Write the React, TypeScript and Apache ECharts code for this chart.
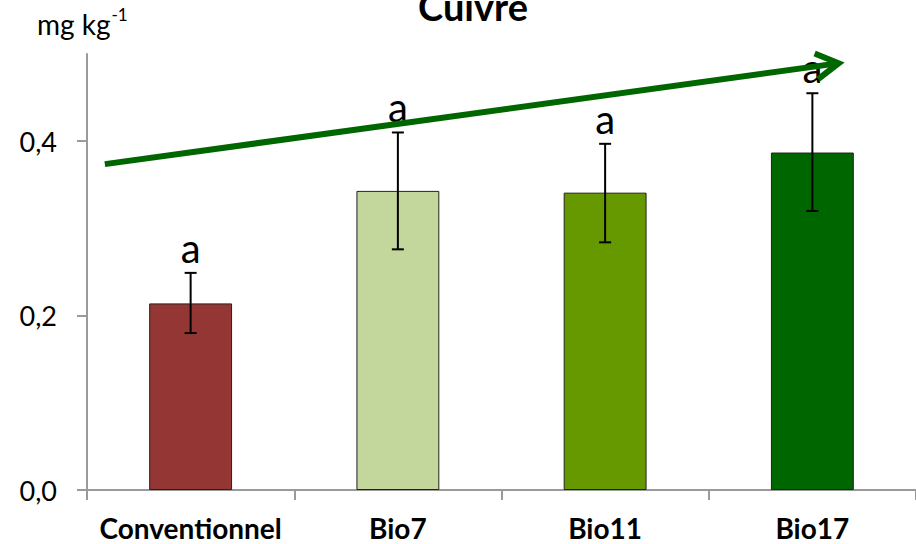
import React, { useEffect, useRef } from "react";
import * as echarts from "echarts";

const categories = ["Conventionnel", "Bio7", "Bio11", "Bio17"];
const values = [0.214, 0.343, 0.341, 0.387];
const errLow = [0.18, 0.276, 0.284, 0.32];
const errHigh = [0.249, 0.41, 0.397, 0.455];
const letters = ["a", "a", "a", "a"];
const barColors = ["#943634", "#C3D69B", "#669900", "#006600"];
const yTicks = [0, 0.2, 0.4];
const yLabels = ["0,0", "0,2", "0,4"];
const arrowStart = [-0.414, 0.3737];
const arrowEnd = [3.127, 0.4894];

const FONT = "Lato, 'Open Sans', sans-serif";

export default function App() {
  const ref = useRef<HTMLDivElement>(null);
  useEffect(() => {
    if (!ref.current) return;
    const chart = echarts.init(ref.current, undefined, { renderer: "svg" });
    const option: any = {
      animation: false,
      textStyle: { fontFamily: FONT },
      graphic: [
        {
          type: "text",
          x: 473,
          y: -13,
          style: { text: "Cuivre", font: `bold 38px ${FONT}`, fill: "#000", align: "center", verticalAlign: "top" },
        },
        {
          type: "text",
          left: 37,
          top: 6,
          style: {
            text: "{a|mg kg}{s|-1}",
            fill: "#000",
            rich: {
              a: { fontFamily: FONT, fontSize: 28, fill: "#000", verticalAlign: "bottom", lineHeight: 32 },
              s: { fontFamily: FONT, fontSize: 17, fill: "#000", verticalAlign: "top", lineHeight: 32, padding: [0, 0, 14, 1] },
            },
          },
        },
      ],
      grid: { left: 87, right: -7, top: 54, bottom: 54, containLabel: false },
      xAxis: [
        {
          type: "category",
          data: categories,
          axisLine: { lineStyle: { color: "#9a9a9a", width: 2 } },
          axisTick: { show: true, length: 10, lineStyle: { color: "#9a9a9a", width: 2 } },
          axisLabel: { interval: 0, fontFamily: FONT, fontWeight: "bold", fontSize: 28, lineHeight: 28, color: "#000", margin: 24 },
        },
        {
          type: "value",
          min: -0.5,
          max: 3.5,
          show: false,
        },
      ],
      yAxis: {
        type: "value",
        min: 0,
        max: 0.5,
        interval: 0.1,
        splitLine: { show: false },
        axisLine: { show: true, onZero: false, lineStyle: { color: "#9a9a9a", width: 2 } },
        axisTick: { show: true, length: 10, customValues: yTicks, lineStyle: { color: "#9a9a9a", width: 2 } },
        axisLabel: {
          customValues: yTicks,
          fontFamily: FONT,
          fontSize: 27,
          color: "#000",
          margin: 30,
          formatter: (v: number) => {
            const i = yTicks.findIndex((t) => Math.abs(t - v) < 1e-9);
            return i >= 0 ? yLabels[i] : "";
          },
        },
      },
      series: [
        {
          type: "bar",
          xAxisIndex: 0,
          barWidth: "40%",
          data: values.map((v, i) => ({
            value: v,
            itemStyle: { color: barColors[i], borderColor: "#222", borderWidth: 1 },
          })),
        },
        {
          type: "custom",
          xAxisIndex: 0,
          z: 5,
          data: categories.map((_, i) => [i, errLow[i], errHigh[i]]),
          renderItem: (params: any, api: any) => {
            const i = api.value(0);
            const lo = api.coord([i, api.value(1)]);
            const hi = api.coord([i, api.value(2)]);
            const hw = 6;
            const st = { stroke: "#000", lineWidth: 2 };
            return {
              type: "group",
              children: [
                { type: "line", shape: { x1: lo[0], y1: lo[1], x2: hi[0], y2: hi[1] }, style: st },
                { type: "line", shape: { x1: lo[0] - hw, y1: lo[1], x2: lo[0] + hw, y2: lo[1] }, style: st },
                { type: "line", shape: { x1: hi[0] - hw, y1: hi[1], x2: hi[0] + hw, y2: hi[1] }, style: st },
                {
                  type: "text",
                  x: hi[0],
                  y: hi[1] - 5,
                  style: {
                    text: letters[i],
                    font: `40px ${FONT}`,
                    fill: "#000",
                    align: "center",
                    verticalAlign: "bottom",
                  },
                },
              ],
            };
          },
        },
        {
          type: "custom",
          xAxisIndex: 1,
          z: 10,
          data: [[arrowStart[0], arrowStart[1], arrowEnd[0], arrowEnd[1]]],
          renderItem: (params: any, api: any) => {
            const p0 = api.coord([api.value(0), api.value(1)]);
            const p1 = api.coord([api.value(2), api.value(3)]);
            const ang = Math.atan2(p1[1] - p0[1], p1[0] - p0[0]);
            const L = 26;
            const a = (30 * Math.PI) / 180;
            const w1 = [p1[0] - L * Math.cos(ang - a), p1[1] - L * Math.sin(ang - a)];
            const w2 = [p1[0] - L * Math.cos(ang + a), p1[1] - L * Math.sin(ang + a)];
            const st = { stroke: "#006600", lineWidth: 6, fill: "none", lineJoin: "miter" };
            return {
              type: "group",
              children: [
                { type: "line", shape: { x1: p0[0], y1: p0[1], x2: p1[0] - 3 * Math.cos(ang), y2: p1[1] - 3 * Math.sin(ang) }, style: st },
                { type: "polyline", shape: { points: [w1, p1, w2] }, style: st },
              ],
            };
          },
        },
      ],
    };
    chart.setOption(option);
    return () => chart.dispose();
  }, []);
  return <div ref={ref} style={{ width: 916, height: 544, position: "absolute", left: 0, top: 0 }} />;
}
